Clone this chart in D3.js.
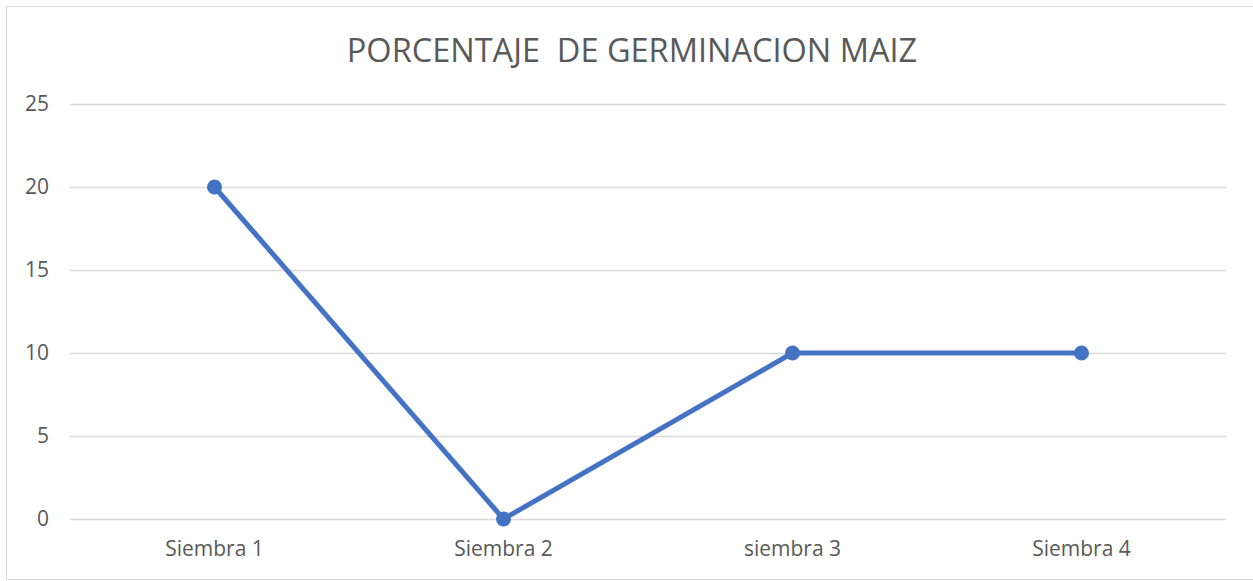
<!DOCTYPE html>
<html lang="es">
<head>
<meta charset="UTF-8">
<title>Porcentaje de germinacion maiz</title>
<script src="https://cdn.jsdelivr.net/npm/d3@7"></script>
<style>
  body { margin: 0; background: #fff; }
  svg { display: block; }
</style>
</head>
<body>
<svg width="1253" height="581"></svg>
<script>
    // datos
    var categories = ["Siembra 1", "Siembra 2", "siembra 3", "Siembra 4"];
    var values = [20, 0, 10, 10];
    var yTicks = [0, 5, 10, 15, 20, 25];
    var title = "PORCENTAJE\u00a0 DE GERMINACION MAIZ";

    var svg = d3.select("svg");
    var width = +svg.attr("width");
    var height = +svg.attr("height");
    var marge = {top: 104, bottom: 62, left: 70, right: 27};
    var font = "'Open Sans', sans-serif";

    // borde del grafico
    svg.append("rect")
        .attr("x", 6.5).attr("y", 6.5)
        .attr("width", width + 10).attr("height", 573)
        .attr("fill", "none")
        .attr("stroke", "#d9d9d9")
        .attr("stroke-width", 1);

    var g = svg.append("g")
        .attr("transform", "translate(" + marge.left + "," + marge.top + ")");
    var w = width - marge.left - marge.right;
    var h = height - marge.top - marge.bottom;

    var xScale = d3.scaleBand().domain(categories).range([0, w]);
    var yScale = d3.scaleLinear().domain([0, 25]).range([h, 0]);

    // lineas de cuadricula
    g.append("g").selectAll("line")
        .data(yTicks)
        .enter().append("line")
        .attr("x1", 0).attr("x2", w)
        .attr("y1", function(d){ return Math.round(yScale(d)) + 0.5; })
        .attr("y2", function(d){ return Math.round(yScale(d)) + 0.5; })
        .attr("stroke", "#d9d9d9")
        .attr("stroke-width", 1.3);

    // eje y
    var yAxis = d3.axisLeft(yScale).tickValues(yTicks).tickSize(0).tickPadding(21);
    var ya = g.append("g").call(yAxis);
    ya.select(".domain").remove();
    ya.selectAll("text")
        .attr("fill", "#595959")
        .style("font-family", font)
        .style("font-size", "21px");

    // eje x
    var xAxis = d3.axisBottom(xScale).tickSize(0).tickPadding(22);
    var xa = g.append("g").attr("transform", "translate(0," + h + ")").call(xAxis);
    xa.select(".domain").remove();
    xa.selectAll("text")
        .attr("fill", "#595959")
        .style("font-family", font)
        .style("font-size", "21px");
    svg.selectAll("g").attr("font-family", null).attr("font-size", null);

    // linea
    var cx = function(d, i){ return xScale(categories[i]) + xScale.bandwidth() / 2; };
    var line = d3.line()
        .x(cx)
        .y(function(d){ return yScale(d); });
    g.append("path")
        .datum(values)
        .attr("d", line)
        .attr("fill", "none")
        .attr("stroke", "#4472c4")
        .attr("stroke-width", 5)
        .attr("stroke-linejoin", "round");

    g.selectAll(".pt")
        .data(values)
        .enter().append("circle")
        .attr("class", "pt")
        .attr("cx", cx)
        .attr("cy", function(d){ return yScale(d); })
        .attr("r", 7.5)
        .attr("fill", "#4472c4");

    // titulo
    svg.append("text")
        .attr("x", 632)
        .attr("y", 62)
        .attr("text-anchor", "middle")
        .attr("fill", "#595959")
        .style("font-family", font)
        .style("font-size", "32.5px")
        .text(title);
</script>
</body>
</html>
